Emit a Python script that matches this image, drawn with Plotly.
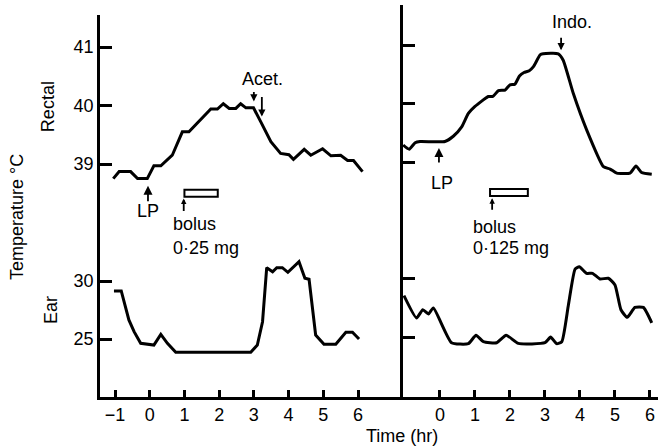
import plotly.graph_objects as go

# ---------------- data ----------------
# Left panel (Acet.)
L_RECTAL_T = [-1.05, -0.88, -0.55, -0.35, -0.07, 0.12, 0.32, 0.65, 0.94, 1.13, 1.76, 1.95, 2.12, 2.29, 2.48,
              2.62, 2.77, 2.99, 3.20, 3.49, 3.77, 4.01, 4.14, 4.45, 4.64, 4.98, 5.22, 5.50, 5.70, 5.87, 6.13]
L_RECTAL = [38.75, 38.87, 38.87, 38.75, 38.75, 38.97, 38.97, 39.15, 39.55, 39.55, 39.94, 39.94, 40.03, 39.95, 39.95,
            40.03, 39.96, 39.96, 39.72, 39.38, 39.18, 39.16, 39.08, 39.25, 39.15, 39.26, 39.14, 39.15, 39.06, 39.06, 38.87]
L_EAR_T = [-1.03, -0.82, -0.60, -0.45, -0.26, 0.12, 0.32, 0.51, 0.75, 2.91, 3.10, 3.25, 3.37, 3.54, 3.66, 3.82,
           3.98, 4.30, 4.47, 4.59, 4.78, 5.02, 5.36, 5.65, 5.84, 6.03]
L_EAR = [29.14, 29.14, 26.64, 25.63, 24.63, 24.48, 25.40, 24.63, 23.85, 23.85, 24.48, 26.49, 31.15, 30.80, 31.15, 31.15,
         30.75, 31.66, 30.23, 30.15, 25.34, 24.54, 24.54, 25.58, 25.58, 25.00]

# Right panel (Indo.)
R_RECTAL_T = [-1.05, -0.88, -0.71, -0.57, 0.14, 0.38, 0.62, 0.81, 1.00, 1.38, 1.51, 1.67, 1.86, 2.00, 2.14, 2.27,
              2.40, 2.55, 2.67, 2.86, 2.95, 3.38, 3.52, 3.81, 4.19, 4.67, 4.86, 5.05, 5.43, 5.60, 5.76, 6.05]
R_RECTAL = [39.29, 39.22, 39.33, 39.35, 39.35, 39.44, 39.60, 39.83, 39.95, 40.12, 40.12, 40.22, 40.23, 40.32, 40.33, 40.47,
            40.53, 40.56, 40.63, 40.83, 40.85, 40.85, 40.74, 40.17, 39.55, 38.92, 38.88, 38.81, 38.81, 38.93, 38.82, 38.79]
R_EAR_T = [-1.03, -0.67, -0.49, -0.33, -0.19, 0.33, 0.81, 1.03, 1.24, 1.62, 1.89, 2.24, 3.00, 3.16, 3.33, 3.48,
           3.67, 3.86, 3.98, 4.19, 4.36, 4.57, 4.81, 5.00, 5.17, 5.35, 5.57, 5.81, 6.05]
R_EAR = [28.58, 26.67, 27.37, 27.01, 27.52, 24.55, 24.47, 25.19, 24.64, 24.55, 25.19, 24.49, 24.55, 25.03, 24.47, 24.64,
         27.80, 30.85, 31.04, 30.48, 30.48, 30.00, 30.06, 29.49, 27.37, 26.72, 27.57, 27.57, 26.25]

X_TICKS_LEFT = [-1, 0, 1, 2, 3, 4, 5, 6]
X_TICKS_RIGHT = [0, 1, 2, 3, 4, 5, 6]
RECTAL_TICKS = [39, 40, 41]
EAR_TICKS = [25, 30]

# events: (time, temperature at arrow tip)
L_LP = (-0.05, 38.63)
L_ACET = [(3.0, 40.07), (3.23, 39.81)]
L_BOLUS = (1.0, 1.96, 38.44, 38.56)
L_BOLUS_ARROW = (0.98, 38.41)
R_LP = (-0.03, 39.24)
R_INDO = (3.46, 40.91)
R_BOLUS = (1.43, 2.51, 38.42, 38.54)
R_BOLUS_ARROW = (1.49, 38.38)

FONT = "Liberation Sans, Arial, Helvetica, sans-serif"
FS = 18
LW = 3

fig = go.Figure()
fig.add_trace(go.Scatter(x=L_RECTAL_T, y=L_RECTAL, xaxis="x", yaxis="y", mode="lines",
                         line=dict(color="black", width=LW)))
fig.add_trace(go.Scatter(x=L_EAR_T, y=L_EAR, xaxis="x", yaxis="y2", mode="lines",
                         line=dict(color="black", width=LW)))
fig.add_trace(go.Scatter(x=R_RECTAL_T, y=R_RECTAL, xaxis="x2", yaxis="y3", mode="lines",
                         line=dict(color="black", width=LW, shape="spline", smoothing=0.5)))
fig.add_trace(go.Scatter(x=R_EAR_T, y=R_EAR, xaxis="x2", yaxis="y4", mode="lines",
                         line=dict(color="black", width=LW, shape="spline", smoothing=0.5)))

ax_common = dict(showgrid=False, zeroline=False, showline=True, linecolor="black", linewidth=2.5,
                 ticks="inside", tickcolor="black", tickwidth=2.5,
                 tickfont=dict(family=FONT, size=FS, color="black"))

split = 303 / 558
fig.update_layout(
    width=658, height=447, margin=dict(l=100, r=0, t=5, b=50),
    paper_bgcolor="white", plot_bgcolor="white", showlegend=False,
    font=dict(family=FONT, size=FS, color="black"),
    xaxis=dict(domain=[0, split], range=[-1.432, 7.296], tickvals=X_TICKS_LEFT,
               ticktext=["\u22121"] + [str(v) for v in X_TICKS_LEFT[1:]], ticklen=7, anchor="y", **ax_common),
    xaxis2=dict(domain=[split, 1], range=[-1.057, 6.229], tickvals=X_TICKS_RIGHT, ticklen=7, anchor="y3", **ax_common),
    yaxis=dict(domain=[0, 382 / 392], range=[35.017, 41.547], tickvals=RECTAL_TICKS, ticklen=12,
               anchor="x", **ax_common),
    yaxis2=dict(overlaying="y", range=[20, 52.93], tickvals=EAR_TICKS, ticklen=12, anchor="x", side="left",
                **ax_common),
    yaxis3=dict(domain=[0, 1], range=[34.983, 41.684], tickvals=RECTAL_TICKS, ticklen=12, showticklabels=False,
                anchor="x2", **ax_common),
    yaxis4=dict(overlaying="y3", range=[19.91, 53.42], tickvals=EAR_TICKS, ticklen=12, showticklabels=False,
                anchor="x2", side="left", **ax_common),
)

ann = []


def arrow(x, y, ay, xref, yref, size=1.0):
    ann.append(dict(x=x, y=y, xref=xref, yref=yref, ax=0, ay=ay, text="", showarrow=True,
                    arrowhead=2, arrowsize=size, arrowwidth=1.8, arrowcolor="black", standoff=0))


def label(x, y, text, xref, yref, xanchor="center", textangle=0):
    ann.append(dict(x=x, y=y, xref=xref, yref=yref, text=text, showarrow=False, xanchor=xanchor,
                    yanchor="middle", textangle=textangle, font=dict(family=FONT, size=FS, color="black")))


# left panel annotations
arrow(L_LP[0], L_LP[1], 17, "x", "y")
label(-0.06, 38.19, "LP", "x", "y")
arrow(L_ACET[0][0], L_ACET[0][1], -11, "x", "y", 0.8)
arrow(L_ACET[1][0], L_ACET[1][1], -21, "x", "y", 0.8)
label(3.26, 40.46, "Acet.", "x", "y")
arrow(L_BOLUS_ARROW[0], L_BOLUS_ARROW[1], 14, "x", "y", 0.6)
label(0.60, 37.97, "bolus", "x", "y", "left")
label(0.60, 37.56, "0\u00b725 mg", "x", "y", "left")

# right panel annotations
arrow(R_LP[0], R_LP[1], 16, "x2", "y3")
label(0.06, 38.64, "LP", "x2", "y3")
arrow(R_INDO[0], R_INDO[1], -14, "x2", "y3", 0.8)
label(3.77, 41.39, "Indo.", "x2", "y3")
arrow(R_BOLUS_ARROW[0], R_BOLUS_ARROW[1], 13, "x2", "y3", 0.6)
label(0.90, 37.89, "bolus", "x2", "y3", "left")
label(0.88, 37.53, "0\u00b7125 mg", "x2", "y3", "left")

# axis titles
label(-0.1487, 0.459, "Temperature \u00b0C", "paper", "paper", textangle=-90)
label(-0.0932, 0.742, "Rectal", "paper", "paper", textangle=-90)
label(-0.0878, 0.222, "Ear", "paper", "paper", textangle=-90)
label(0.5412, -0.0995, "Time (hr)", "paper", "paper")

fig.update_layout(annotations=ann)

# bolus boxes
fig.add_shape(type="rect", xref="x", yref="y", x0=L_BOLUS[0], x1=L_BOLUS[1], y0=L_BOLUS[2], y1=L_BOLUS[3],
              line=dict(color="black", width=2), fillcolor="white")
fig.add_shape(type="rect", xref="x2", yref="y3", x0=R_BOLUS[0], x1=R_BOLUS[1], y0=R_BOLUS[2], y1=R_BOLUS[3],
              line=dict(color="black", width=2), fillcolor="white")

fig.write_html("out.html")
